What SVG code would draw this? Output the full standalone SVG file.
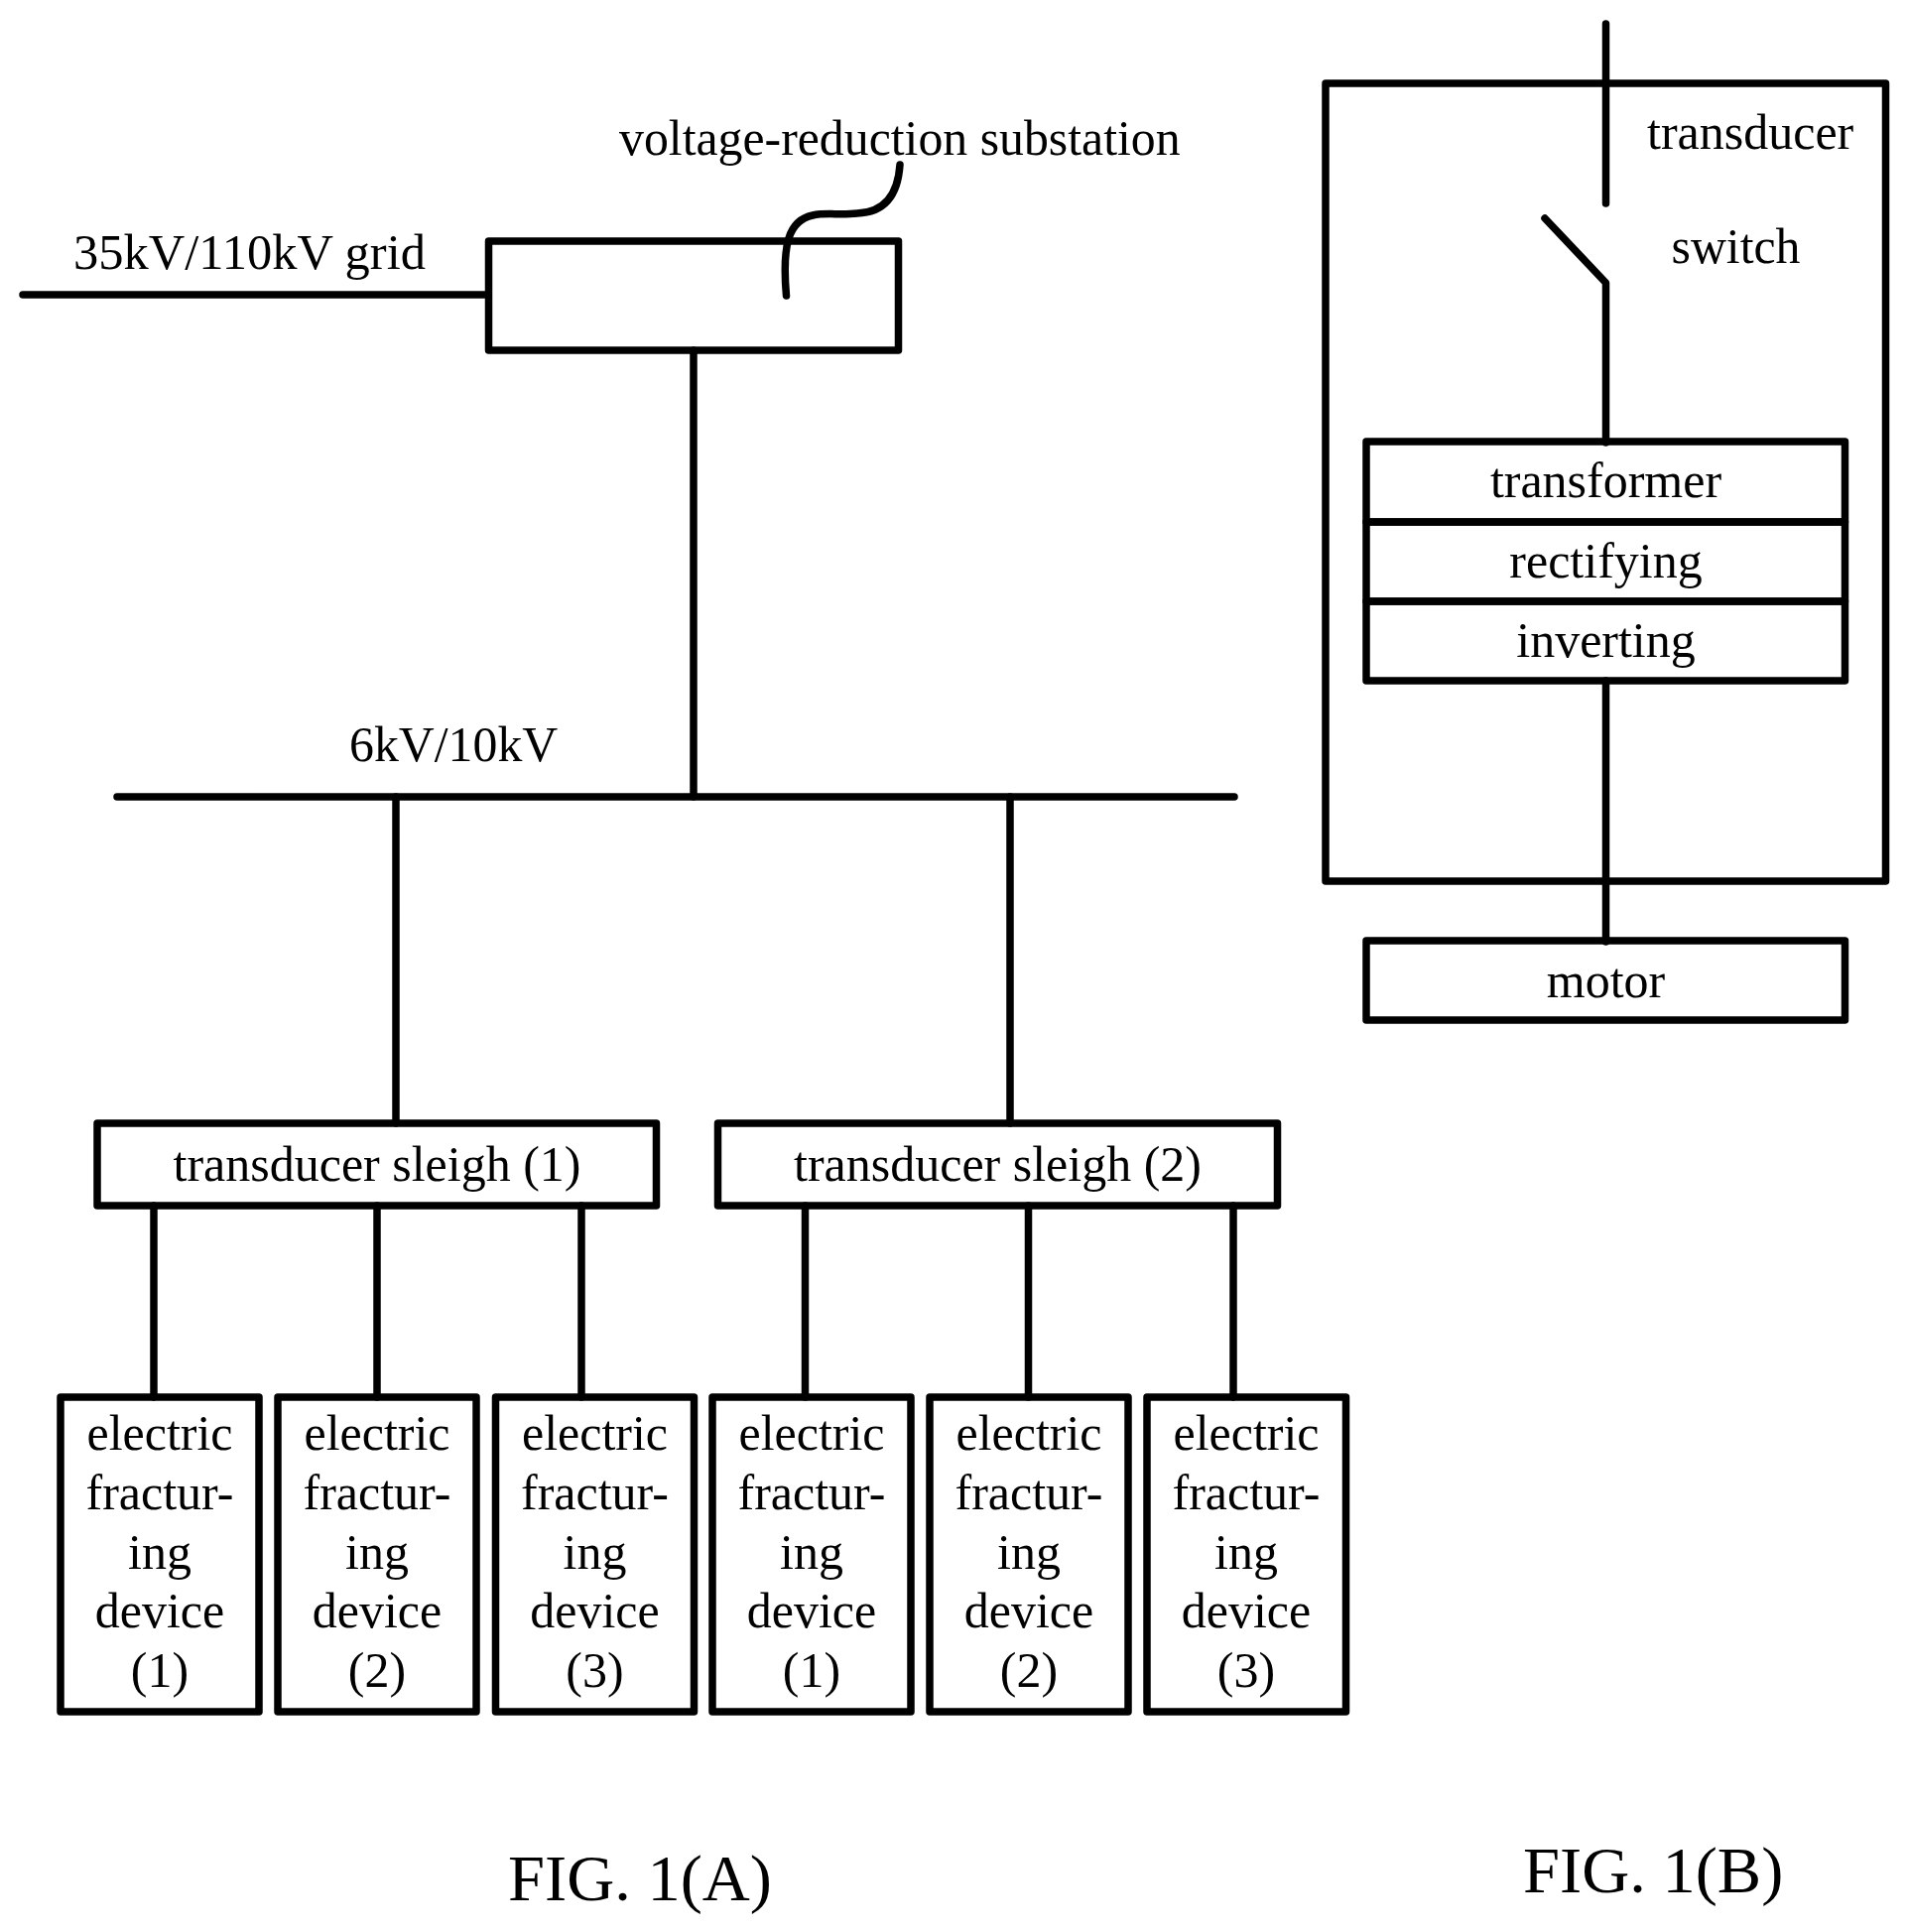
<svg xmlns="http://www.w3.org/2000/svg" width="1922" height="1947" viewBox="0 0 1922 1947">
<style>
text{font-family:"Liberation Serif","Times New Roman",serif;font-size:50px;fill:#000}
.c{text-anchor:middle}
.f{font-size:66.500px}
.b{fill:none;stroke:#000;stroke-width:7.500;stroke-linejoin:round}
.l{fill:none;stroke:#000;stroke-width:7.500;stroke-linecap:round;stroke-linejoin:round}
</style>
<rect width="1922" height="1947" fill="#fff"/>
<g id="connectors">
<path class="l" d="M23 297H491"/>
<path class="l" d="M699 353V803"/>
<path class="l" d="M118 803H1244"/>
<path class="l" d="M399 803V1132"/>
<path class="l" d="M1018 803V1132"/>
<path class="l" d="M155 1215V1408"/>
<path class="l" d="M380 1215V1408"/>
<path class="l" d="M586 1215V1408"/>
<path class="l" d="M811.500 1215V1408"/>
<path class="l" d="M1036.500 1215V1408"/>
<path class="l" d="M1243 1215V1408"/>
<path class="l" d="M907 166C905 196 892 214 864 215C847 217 832 214 819 217C795 222 788 246 792.500 298"/>
<path class="l" d="M1618.500 24V205"/>
<path class="l" d="M1557 220L1618.500 285V446"/>
<path class="l" d="M1618.500 686V949"/>
</g>
<g id="substation"><rect class="b" x="492.500" y="243" width="413" height="110"/></g>
<g id="label-substation"><text x="624" y="156" style="font-size:49.800px">voltage-reduction substation</text></g>
<g id="label-grid"><text x="74" y="271" style="font-size:50.500px">35kV/110kV grid</text></g>
<g id="label-bus"><text x="352" y="767" style="font-size:49.800px">6kV/10kV</text></g>
<g id="sleigh-1"><rect class="b" x="98" y="1132" width="563.500" height="83"/><text class="c" x="380" y="1190">transducer sleigh (1)</text></g>
<g id="sleigh-2"><rect class="b" x="723.500" y="1132" width="564" height="83"/><text class="c" x="1005.500" y="1190">transducer sleigh (2)</text></g>
<g id="device-1-1"><rect class="b" x="61" y="1408" width="200" height="317"/><text class="c"><tspan x="161" y="1461">electric</tspan><tspan x="161" y="1521">fractur-</tspan><tspan x="161" y="1581">ing</tspan><tspan x="161" y="1640">device</tspan><tspan x="161" y="1700">(1)</tspan></text></g>
<g id="device-1-2"><rect class="b" x="280" y="1408" width="200" height="317"/><text class="c"><tspan x="380" y="1461">electric</tspan><tspan x="380" y="1521">fractur-</tspan><tspan x="380" y="1581">ing</tspan><tspan x="380" y="1640">device</tspan><tspan x="380" y="1700">(2)</tspan></text></g>
<g id="device-1-3"><rect class="b" x="499.500" y="1408" width="200" height="317"/><text class="c"><tspan x="599.500" y="1461">electric</tspan><tspan x="599.500" y="1521">fractur-</tspan><tspan x="599.500" y="1581">ing</tspan><tspan x="599.500" y="1640">device</tspan><tspan x="599.500" y="1700">(3)</tspan></text></g>
<g id="device-2-1"><rect class="b" x="718" y="1408" width="200" height="317"/><text class="c"><tspan x="818" y="1461">electric</tspan><tspan x="818" y="1521">fractur-</tspan><tspan x="818" y="1581">ing</tspan><tspan x="818" y="1640">device</tspan><tspan x="818" y="1700">(1)</tspan></text></g>
<g id="device-2-2"><rect class="b" x="937" y="1408" width="200" height="317"/><text class="c"><tspan x="1037" y="1461">electric</tspan><tspan x="1037" y="1521">fractur-</tspan><tspan x="1037" y="1581">ing</tspan><tspan x="1037" y="1640">device</tspan><tspan x="1037" y="1700">(2)</tspan></text></g>
<g id="device-2-3"><rect class="b" x="1156" y="1408" width="200.500" height="317"/><text class="c"><tspan x="1256" y="1461">electric</tspan><tspan x="1256" y="1521">fractur-</tspan><tspan x="1256" y="1581">ing</tspan><tspan x="1256" y="1640">device</tspan><tspan x="1256" y="1700">(3)</tspan></text></g>
<g id="transducer"><rect class="b" x="1336" y="84" width="564.500" height="804"/><text x="1660" y="150">transducer</text></g>
<g id="label-switch"><text x="1684.500" y="265" style="font-size:49.800px">switch</text></g>
<g id="transformer"><rect class="b" x="1377" y="445" width="482.500" height="81"/><text class="c" x="1618.500" y="501">transformer</text></g>
<g id="rectifying"><rect class="b" x="1377" y="526" width="482.500" height="80"/><text class="c" x="1618.500" y="582">rectifying</text></g>
<g id="inverting"><rect class="b" x="1377" y="606" width="482.500" height="80"/><text class="c" x="1618.500" y="662">inverting</text></g>
<g id="motor"><rect class="b" x="1377" y="948" width="482.500" height="80"/><text class="c" x="1618.500" y="1005">motor</text></g>
<g id="caption-a"><text class="f" x="512" y="1915">FIG. 1(A)</text></g>
<g id="caption-b"><text class="f" x="1535" y="1907">FIG. 1(B)</text></g>
</svg>
